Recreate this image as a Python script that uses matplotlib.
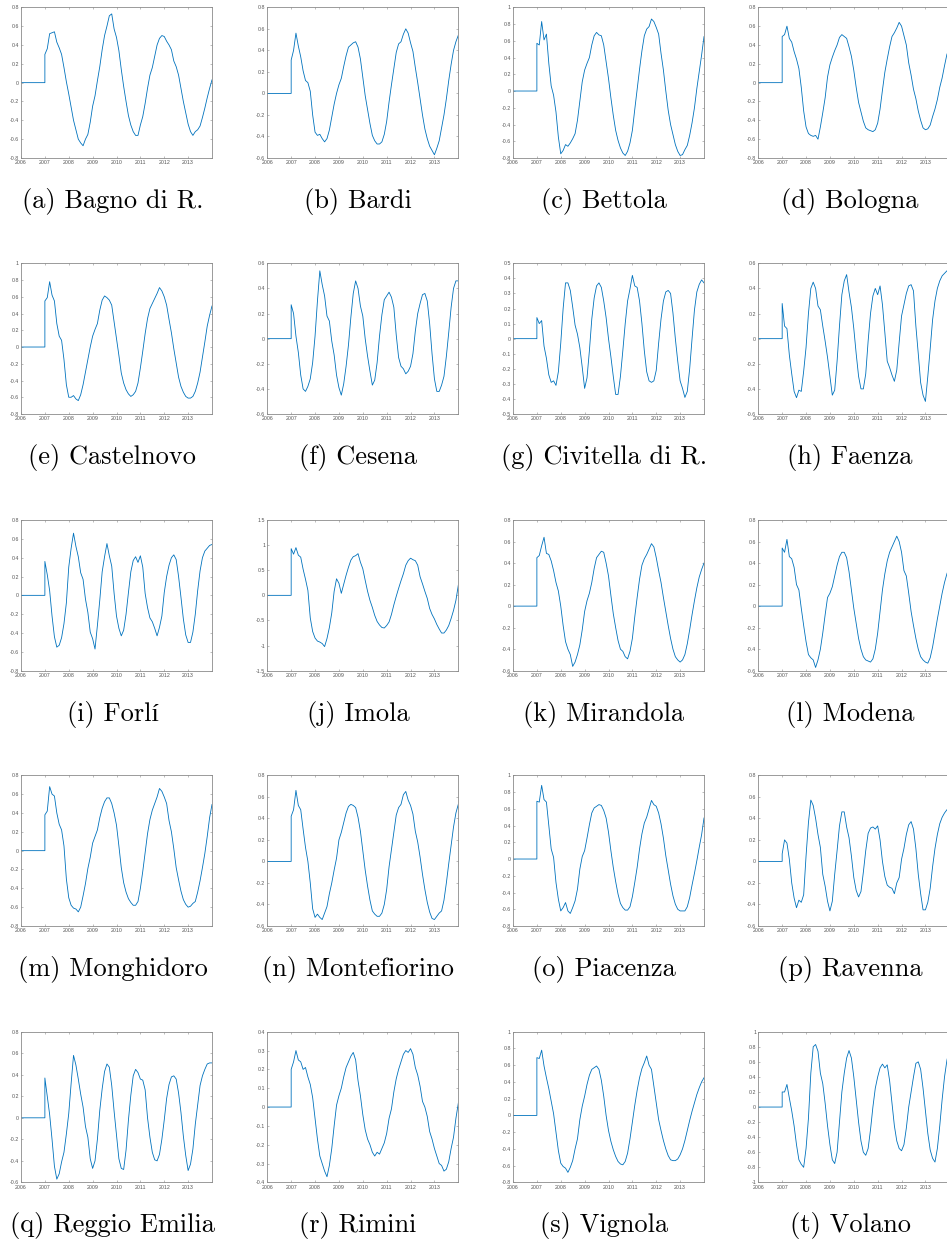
import matplotlib
matplotlib.use("Agg")
import matplotlib.pyplot as plt
from matplotlib.ticker import FixedLocator, FuncFormatter

# Sampling instants (years) of the modelled signal; before 2007 every series is 0.
start_years = [2006.0, 2007.0]
sample_years = [2007 + k / 10 for k in range(71)]

bagno_di_r = [0.30, 0.36, 0.52, 0.53, 0.54, 0.43, 0.37, 0.30, 0.16, 0.01,
              -0.12, -0.26, -0.40, -0.50, -0.60, -0.64, -0.67, -0.60, -0.55, -0.42,
              -0.25, -0.14, 0.02, 0.17, 0.35, 0.50, 0.60, 0.71, 0.73, 0.57,
              0.48, 0.34, 0.14, -0.04, -0.20, -0.35, -0.45, -0.52, -0.56, -0.56,
              -0.45, -0.36, -0.22, -0.06, 0.08, 0.16, 0.28, 0.40, 0.47, 0.50,
              0.49, 0.44, 0.40, 0.35, 0.23, 0.17, 0.08, -0.06, -0.20, -0.32,
              -0.44, -0.52, -0.56, -0.52, -0.50, -0.46, -0.37, -0.27, -0.16, -0.06,
              0.03]
bardi = [0.31, 0.40, 0.56, 0.44, 0.34, 0.21, 0.12, 0.10, 0.02, -0.20,
         -0.36, -0.39, -0.38, -0.42, -0.45, -0.42, -0.34, -0.22, -0.10, 0.00,
         0.08, 0.14, 0.25, 0.35, 0.43, 0.45, 0.47, 0.48, 0.43, 0.32,
         0.15, -0.02, -0.15, -0.28, -0.39, -0.44, -0.47, -0.47, -0.45, -0.38,
         -0.26, -0.08, 0.08, 0.23, 0.38, 0.46, 0.48, 0.55, 0.60, 0.56,
         0.47, 0.39, 0.24, 0.10, -0.05, -0.20, -0.33, -0.42, -0.49, -0.53,
         -0.57, -0.51, -0.44, -0.32, -0.20, -0.05, 0.12, 0.27, 0.40, 0.48,
         0.54]
bettola = [0.57, 0.55, 0.83, 0.61, 0.68, 0.33, 0.06, -0.05, -0.25, -0.55,
           -0.75, -0.71, -0.64, -0.66, -0.62, -0.57, -0.51, -0.35, -0.12, 0.11,
           0.25, 0.33, 0.40, 0.55, 0.66, 0.70, 0.67, 0.66, 0.55, 0.35,
           0.15, -0.08, -0.29, -0.47, -0.59, -0.68, -0.74, -0.77, -0.72, -0.62,
           -0.47, -0.22, 0.02, 0.26, 0.48, 0.66, 0.74, 0.77, 0.86, 0.83,
           0.76, 0.68, 0.45, 0.25, 0.00, -0.23, -0.40, -0.52, -0.64, -0.72,
           -0.77, -0.76, -0.70, -0.65, -0.53, -0.38, -0.20, 0.03, 0.23, 0.43,
           0.65]
bologna = [0.49, 0.51, 0.60, 0.47, 0.43, 0.33, 0.25, 0.15, -0.05, -0.30,
           -0.47, -0.54, -0.56, -0.57, -0.56, -0.60, -0.47, -0.32, -0.16, 0.06,
           0.19, 0.27, 0.34, 0.40, 0.48, 0.51, 0.49, 0.47, 0.38, 0.28,
           0.13, -0.05, -0.21, -0.31, -0.41, -0.48, -0.50, -0.51, -0.52, -0.50,
           -0.43, -0.28, -0.08, 0.11, 0.25, 0.38, 0.49, 0.53, 0.58, 0.64,
           0.60, 0.50, 0.40, 0.21, 0.08, -0.07, -0.17, -0.30, -0.40, -0.48,
           -0.50, -0.49, -0.45, -0.36, -0.28, -0.18, -0.05, 0.05, 0.18, 0.30,
           0.36]
castelnovo = [0.55, 0.59, 0.78, 0.62, 0.55, 0.28, 0.13, 0.08, -0.15, -0.45,
              -0.60, -0.60, -0.58, -0.62, -0.64, -0.57, -0.45, -0.30, -0.15, 0.00,
              0.13, 0.21, 0.28, 0.44, 0.56, 0.61, 0.59, 0.56, 0.50, 0.30,
              0.10, -0.10, -0.31, -0.43, -0.51, -0.56, -0.59, -0.57, -0.53, -0.43,
              -0.25, -0.05, 0.16, 0.34, 0.46, 0.52, 0.58, 0.64, 0.71, 0.67,
              0.60, 0.50, 0.33, 0.17, -0.02, -0.19, -0.36, -0.47, -0.54, -0.59,
              -0.61, -0.61, -0.59, -0.53, -0.43, -0.30, -0.12, 0.06, 0.25, 0.38,
              0.49]
cesena = [0.27, 0.20, 0.02, -0.11, -0.29, -0.40, -0.42, -0.38, -0.32, -0.19,
          0.02, 0.30, 0.54, 0.43, 0.34, 0.18, 0.14, -0.02, -0.13, -0.29,
          -0.39, -0.45, -0.36, -0.22, -0.05, 0.17, 0.36, 0.46, 0.40, 0.26,
          0.18, 0.00, -0.14, -0.26, -0.37, -0.33, -0.19, 0.02, 0.19, 0.31,
          0.34, 0.37, 0.33, 0.25, 0.03, -0.15, -0.22, -0.24, -0.28, -0.26,
          -0.22, -0.12, 0.06, 0.20, 0.28, 0.35, 0.36, 0.30, 0.12, -0.12,
          -0.32, -0.42, -0.42, -0.37, -0.30, -0.14, 0.05, 0.25, 0.40, 0.46,
          0.46]
civitella_di_r = [0.14, 0.10, 0.12, -0.05, -0.13, -0.24, -0.29, -0.28, -0.31, -0.22,
                  -0.03, 0.20, 0.37, 0.37, 0.32, 0.21, 0.09, 0.03, -0.06, -0.19,
                  -0.33, -0.26, -0.08, 0.13, 0.27, 0.35, 0.37, 0.34, 0.25, 0.14,
                  0.00, -0.12, -0.25, -0.37, -0.37, -0.25, -0.08, 0.10, 0.25, 0.33,
                  0.42, 0.35, 0.34, 0.25, 0.10, -0.08, -0.22, -0.28, -0.29, -0.28,
                  -0.21, -0.03, 0.13, 0.25, 0.31, 0.32, 0.30, 0.17, 0.00, -0.15,
                  -0.28, -0.33, -0.39, -0.35, -0.20, 0.00, 0.19, 0.31, 0.36, 0.39,
                  0.37]
faenza = [0.28, 0.10, 0.08, -0.13, -0.28, -0.42, -0.47, -0.41, -0.42, -0.26,
          -0.07, 0.20, 0.40, 0.45, 0.40, 0.26, 0.23, 0.10, -0.02, -0.15,
          -0.30, -0.45, -0.41, -0.18, 0.10, 0.35, 0.46, 0.51, 0.37, 0.25,
          0.08, -0.12, -0.30, -0.40, -0.40, -0.28, -0.02, 0.20, 0.34, 0.40,
          0.35, 0.42, 0.27, 0.05, -0.18, -0.23, -0.29, -0.34, -0.25, -0.03,
          0.18, 0.27, 0.36, 0.42, 0.43, 0.38, 0.10, -0.12, -0.35, -0.45,
          -0.50, -0.30, -0.08, 0.15, 0.30, 0.40, 0.46, 0.50, 0.52, 0.54,
          0.55]
forli = [0.36, 0.22, 0.05, -0.22, -0.44, -0.55, -0.53, -0.45, -0.30, -0.08,
         0.30, 0.50, 0.66, 0.52, 0.41, 0.24, 0.17, -0.04, -0.18, -0.39,
         -0.46, -0.57, -0.32, -0.05, 0.25, 0.41, 0.55, 0.42, 0.31, 0.02,
         -0.22, -0.35, -0.43, -0.37, -0.20, 0.03, 0.25, 0.37, 0.41, 0.35,
         0.42, 0.30, 0.02, -0.13, -0.24, -0.28, -0.35, -0.43, -0.34, -0.22,
         0.03, 0.20, 0.32, 0.40, 0.43, 0.38, 0.20, -0.02, -0.25, -0.42,
         -0.50, -0.50, -0.39, -0.20, 0.05, 0.26, 0.40, 0.47, 0.50, 0.53,
         0.54]
imola = [0.93, 0.82, 0.95, 0.80, 0.76, 0.52, 0.32, 0.10, -0.45, -0.72,
         -0.85, -0.91, -0.93, -0.96, -1.02, -0.86, -0.64, -0.35, 0.08, 0.33,
         0.24, 0.04, 0.22, 0.40, 0.56, 0.70, 0.77, 0.79, 0.83, 0.66,
         0.53, 0.30, 0.08, -0.10, -0.24, -0.40, -0.52, -0.59, -0.64, -0.65,
         -0.60, -0.53, -0.38, -0.19, -0.02, 0.14, 0.29, 0.43, 0.60, 0.69,
         0.74, 0.71, 0.69, 0.60, 0.37, 0.23, 0.08, -0.06, -0.26, -0.38,
         -0.47, -0.58, -0.67, -0.75, -0.75, -0.69, -0.60, -0.46, -0.30, -0.10,
         0.20]
mirandola = [0.45, 0.47, 0.56, 0.64, 0.49, 0.48, 0.42, 0.33, 0.22, 0.14,
             0.00, -0.18, -0.33, -0.40, -0.45, -0.56, -0.52, -0.45, -0.36, -0.22,
             -0.05, 0.05, 0.12, 0.22, 0.35, 0.45, 0.48, 0.51, 0.50, 0.40,
             0.28, 0.10, -0.07, -0.20, -0.32, -0.40, -0.42, -0.47, -0.49, -0.42,
             -0.30, -0.10, 0.08, 0.25, 0.38, 0.44, 0.48, 0.53, 0.58, 0.55,
             0.45, 0.33, 0.22, 0.08, -0.05, -0.18, -0.30, -0.40, -0.47, -0.50,
             -0.52, -0.50, -0.45, -0.35, -0.22, -0.08, 0.05, 0.17, 0.27, 0.34,
             0.40]
modena = [0.54, 0.50, 0.62, 0.46, 0.44, 0.36, 0.20, 0.15, -0.02, -0.18,
          -0.33, -0.45, -0.48, -0.50, -0.57, -0.50, -0.40, -0.25, -0.08, 0.08,
          0.12, 0.18, 0.28, 0.38, 0.46, 0.50, 0.50, 0.45, 0.32, 0.15,
          -0.02, -0.16, -0.30, -0.40, -0.47, -0.50, -0.51, -0.52, -0.49, -0.40,
          -0.25, -0.05, 0.15, 0.30, 0.42, 0.50, 0.55, 0.60, 0.65, 0.60,
          0.50, 0.33, 0.28, 0.12, -0.05, -0.18, -0.30, -0.40, -0.47, -0.50,
          -0.52, -0.53, -0.48, -0.38, -0.25, -0.12, 0.00, 0.12, 0.22, 0.30,
          0.36]
monghidoro = [0.38, 0.42, 0.68, 0.60, 0.58, 0.40, 0.28, 0.22, 0.05, -0.30,
              -0.50, -0.58, -0.61, -0.62, -0.65, -0.60, -0.48, -0.35, -0.19, -0.07,
              0.08, 0.15, 0.22, 0.35, 0.45, 0.52, 0.56, 0.56, 0.50, 0.40,
              0.27, 0.05, -0.18, -0.34, -0.44, -0.51, -0.55, -0.58, -0.58, -0.54,
              -0.40, -0.22, -0.02, 0.18, 0.33, 0.43, 0.50, 0.57, 0.66, 0.63,
              0.57, 0.50, 0.32, 0.20, 0.02, -0.18, -0.31, -0.43, -0.52, -0.57,
              -0.60, -0.59, -0.56, -0.54, -0.44, -0.32, -0.18, -0.03, 0.15, 0.35,
              0.49]
montefiorino = [0.42, 0.48, 0.66, 0.52, 0.48, 0.30, 0.13, 0.00, -0.20, -0.44,
                -0.52, -0.49, -0.52, -0.54, -0.48, -0.42, -0.30, -0.20, -0.08, 0.03,
                0.20, 0.27, 0.36, 0.45, 0.51, 0.53, 0.52, 0.50, 0.41, 0.28,
                0.10, -0.08, -0.23, -0.36, -0.46, -0.49, -0.51, -0.51, -0.48, -0.40,
                -0.26, -0.05, 0.11, 0.27, 0.43, 0.50, 0.53, 0.62, 0.65, 0.57,
                0.52, 0.44, 0.28, 0.18, 0.04, -0.12, -0.26, -0.38, -0.47, -0.53,
                -0.54, -0.51, -0.48, -0.46, -0.36, -0.20, -0.02, 0.15, 0.32, 0.45,
                0.53]
piacenza = [0.69, 0.68, 0.88, 0.71, 0.68, 0.40, 0.12, 0.02, -0.28, -0.48,
            -0.62, -0.58, -0.52, -0.62, -0.65, -0.58, -0.50, -0.36, -0.12, 0.03,
            0.10, 0.25, 0.41, 0.55, 0.61, 0.63, 0.65, 0.64, 0.58, 0.49,
            0.32, 0.10, -0.10, -0.27, -0.42, -0.53, -0.58, -0.61, -0.61, -0.57,
            -0.45, -0.28, -0.10, 0.12, 0.30, 0.43, 0.50, 0.60, 0.70, 0.65,
            0.63, 0.55, 0.42, 0.25, 0.04, -0.13, -0.30, -0.44, -0.54, -0.60,
            -0.62, -0.62, -0.62, -0.57, -0.46, -0.31, -0.17, -0.02, 0.14, 0.29,
            0.49]
ravenna = [0.07, 0.20, 0.17, 0.02, -0.20, -0.34, -0.43, -0.36, -0.38, -0.31,
           0.05, 0.36, 0.57, 0.52, 0.40, 0.25, 0.13, -0.12, -0.23, -0.37,
           -0.46, -0.37, -0.12, 0.10, 0.33, 0.46, 0.46, 0.32, 0.22, 0.05,
           -0.15, -0.27, -0.33, -0.28, -0.10, 0.10, 0.26, 0.31, 0.32, 0.30,
           0.33, 0.20, 0.00, -0.14, -0.22, -0.24, -0.25, -0.30, -0.20, -0.15,
           0.02, 0.12, 0.25, 0.34, 0.37, 0.30, 0.12, -0.12, -0.30, -0.45,
           -0.45, -0.38, -0.25, -0.05, 0.12, 0.25, 0.35, 0.41, 0.45, 0.48,
           0.50]
reggio_emilia = [0.37, 0.20, 0.03, -0.20, -0.45, -0.57, -0.52, -0.41, -0.32, -0.15,
                 0.04, 0.32, 0.58, 0.49, 0.36, 0.22, 0.10, -0.08, -0.18, -0.38,
                 -0.47, -0.40, -0.20, 0.07, 0.27, 0.43, 0.50, 0.47, 0.30, 0.06,
                 -0.16, -0.38, -0.47, -0.48, -0.30, -0.02, 0.21, 0.39, 0.45, 0.42,
                 0.36, 0.35, 0.26, 0.00, -0.18, -0.32, -0.39, -0.40, -0.34, -0.20,
                 -0.02, 0.18, 0.31, 0.38, 0.39, 0.36, 0.23, 0.05, -0.17, -0.35,
                 -0.49, -0.43, -0.29, -0.06, 0.12, 0.30, 0.39, 0.45, 0.50, 0.51,
                 0.51]
rimini = [0.20, 0.24, 0.30, 0.25, 0.24, 0.20, 0.21, 0.16, 0.12, 0.05,
          -0.06, -0.17, -0.26, -0.30, -0.34, -0.37, -0.31, -0.22, -0.10, 0.01,
          0.06, 0.10, 0.16, 0.21, 0.24, 0.27, 0.29, 0.25, 0.14, 0.06,
          -0.04, -0.12, -0.17, -0.20, -0.24, -0.26, -0.24, -0.25, -0.22, -0.19,
          -0.14, -0.06, -0.01, 0.08, 0.15, 0.20, 0.24, 0.28, 0.30, 0.29,
          0.31, 0.28, 0.21, 0.17, 0.11, 0.03, 0.00, -0.05, -0.13, -0.17,
          -0.22, -0.26, -0.30, -0.31, -0.34, -0.33, -0.29, -0.22, -0.16, -0.06,
          0.02]
vignola = [0.69, 0.68, 0.78, 0.59, 0.45, 0.32, 0.17, 0.02, -0.20, -0.42,
           -0.57, -0.61, -0.63, -0.68, -0.62, -0.54, -0.40, -0.28, -0.05, 0.11,
           0.23, 0.37, 0.48, 0.55, 0.57, 0.59, 0.55, 0.42, 0.23, 0.00,
           -0.18, -0.31, -0.41, -0.49, -0.55, -0.58, -0.59, -0.55, -0.45, -0.28,
           -0.08, 0.12, 0.30, 0.45, 0.56, 0.63, 0.71, 0.60, 0.55, 0.35,
           0.15, -0.05, -0.18, -0.30, -0.40, -0.48, -0.53, -0.54, -0.54, -0.52,
           -0.47, -0.40, -0.30, -0.18, -0.06, 0.05, 0.15, 0.25, 0.33, 0.40,
           0.45]
volano = [0.20, 0.20, 0.30, 0.12, -0.05, -0.25, -0.50, -0.70, -0.76, -0.80,
          -0.55, -0.15, 0.45, 0.80, 0.83, 0.74, 0.45, 0.31, 0.05, -0.25,
          -0.50, -0.70, -0.75, -0.60, -0.20, 0.20, 0.45, 0.65, 0.75, 0.65,
          0.40, 0.10, -0.20, -0.45, -0.60, -0.64, -0.55, -0.30, 0.00, 0.25,
          0.40, 0.52, 0.57, 0.52, 0.56, 0.35, 0.05, -0.25, -0.45, -0.55,
          -0.58, -0.50, -0.28, 0.00, 0.20, 0.40, 0.58, 0.60, 0.50, 0.25,
          -0.05, -0.35, -0.57, -0.68, -0.73, -0.55, -0.25, 0.10, 0.40, 0.62,
          0.76]

captions = ["(a) Bagno di R.", "(b) Bardi", "(c) Bettola", "(d) Bologna",
            "(e) Castelnovo", "(f) Cesena", "(g) Civitella di R.", "(h) Faenza",
            "(i) Forlí", "(j) Imola", "(k) Mirandola", "(l) Modena",
            "(m) Monghidoro", "(n) Montefiorino", "(o) Piacenza", "(p) Ravenna",
            "(q) Reggio Emilia", "(r) Rimini", "(s) Vignola", "(t) Volano"]
series = [bagno_di_r, bardi, bettola, bologna,
          castelnovo, cesena, civitella_di_r, faenza,
          forli, imola, mirandola, modena,
          monghidoro, montefiorino, piacenza, ravenna,
          reggio_emilia, rimini, vignola, volano]
# (lower, upper, step) of each y axis
y_ranges = [(-0.8, 0.8, 0.2), (-0.6, 0.8, 0.2), (-0.8, 1.0, 0.2), (-0.8, 0.8, 0.2),
            (-0.8, 1.0, 0.2), (-0.6, 0.6, 0.2), (-0.5, 0.5, 0.1), (-0.6, 0.6, 0.2),
            (-0.8, 0.8, 0.2), (-1.5, 1.5, 0.5), (-0.6, 0.8, 0.2), (-0.6, 0.8, 0.2),
            (-0.8, 0.8, 0.2), (-0.6, 0.8, 0.2), (-0.8, 1.0, 0.2), (-0.6, 0.8, 0.2),
            (-0.6, 0.8, 0.2), (-0.4, 0.4, 0.1), (-0.8, 1.0, 0.2), (-1.0, 1.0, 0.2)]
year_ticks = [2006, 2007, 2008, 2009, 2010, 2011, 2012, 2013]

W, H = 947, 1246
fig = plt.figure(figsize=(W / 100, H / 100), dpi=100)
fig.patch.set_facecolor("white")

col_left = [21.0, 267.3, 513.0, 758.3]
row_top = [7.3, 263.3, 520.0, 775.3, 1031.7]
caption_x = [112.5, 358.0, 604.0, 850.0]
ax_w, ax_h = 191.0, 150.7

line_color = "#0072BD"
frame_color = "#8a8a8a"
label_color = "#555555"
caption_font = ["cmr10", "Liberation Serif"]


def tick_text(v, _pos):
    v = round(v, 2)
    return f"{v:g}"


for i, (cap, vals, (lo, hi, step)) in enumerate(zip(captions, series, y_ranges)):
    r, c = divmod(i, 4)
    left, top = col_left[c], row_top[r]
    ax = fig.add_axes([left / W, 1 - (top + ax_h) / H, ax_w / W, ax_h / H])
    xs = start_years + sample_years
    ys = [0.0, 0.0] + vals
    ax.plot(xs, ys, color=line_color, lw=0.6)
    ax.set_xlim(2006, 2014)
    ax.set_ylim(lo, hi)
    n = int(round((hi - lo) / step))
    ax.yaxis.set_major_locator(FixedLocator([lo + k * step for k in range(n + 1)]))
    ax.yaxis.set_major_formatter(FuncFormatter(tick_text))
    ax.xaxis.set_major_locator(FixedLocator(year_ticks))
    ax.xaxis.set_major_formatter(FuncFormatter(lambda v, p: f"{int(round(v))}"))
    ax.tick_params(direction="in", length=1.6, width=0.4, color=frame_color,
                   labelcolor=label_color, labelsize=3.8, top=True, right=True,
                   pad=1.6)
    for lab in ax.get_xticklabels() + ax.get_yticklabels():
        lab.set_family("Liberation Sans")
    for sp in ax.spines.values():
        sp.set_color(frame_color)
        sp.set_linewidth(0.6)
    base_y = top + ax_h + 50.0
    fig.text(caption_x[c] / W, 1 - base_y / H, cap, ha="center", va="baseline",
             fontsize=19, family=caption_font, color="black")

fig.savefig("out.png", dpi=100, facecolor="white")
